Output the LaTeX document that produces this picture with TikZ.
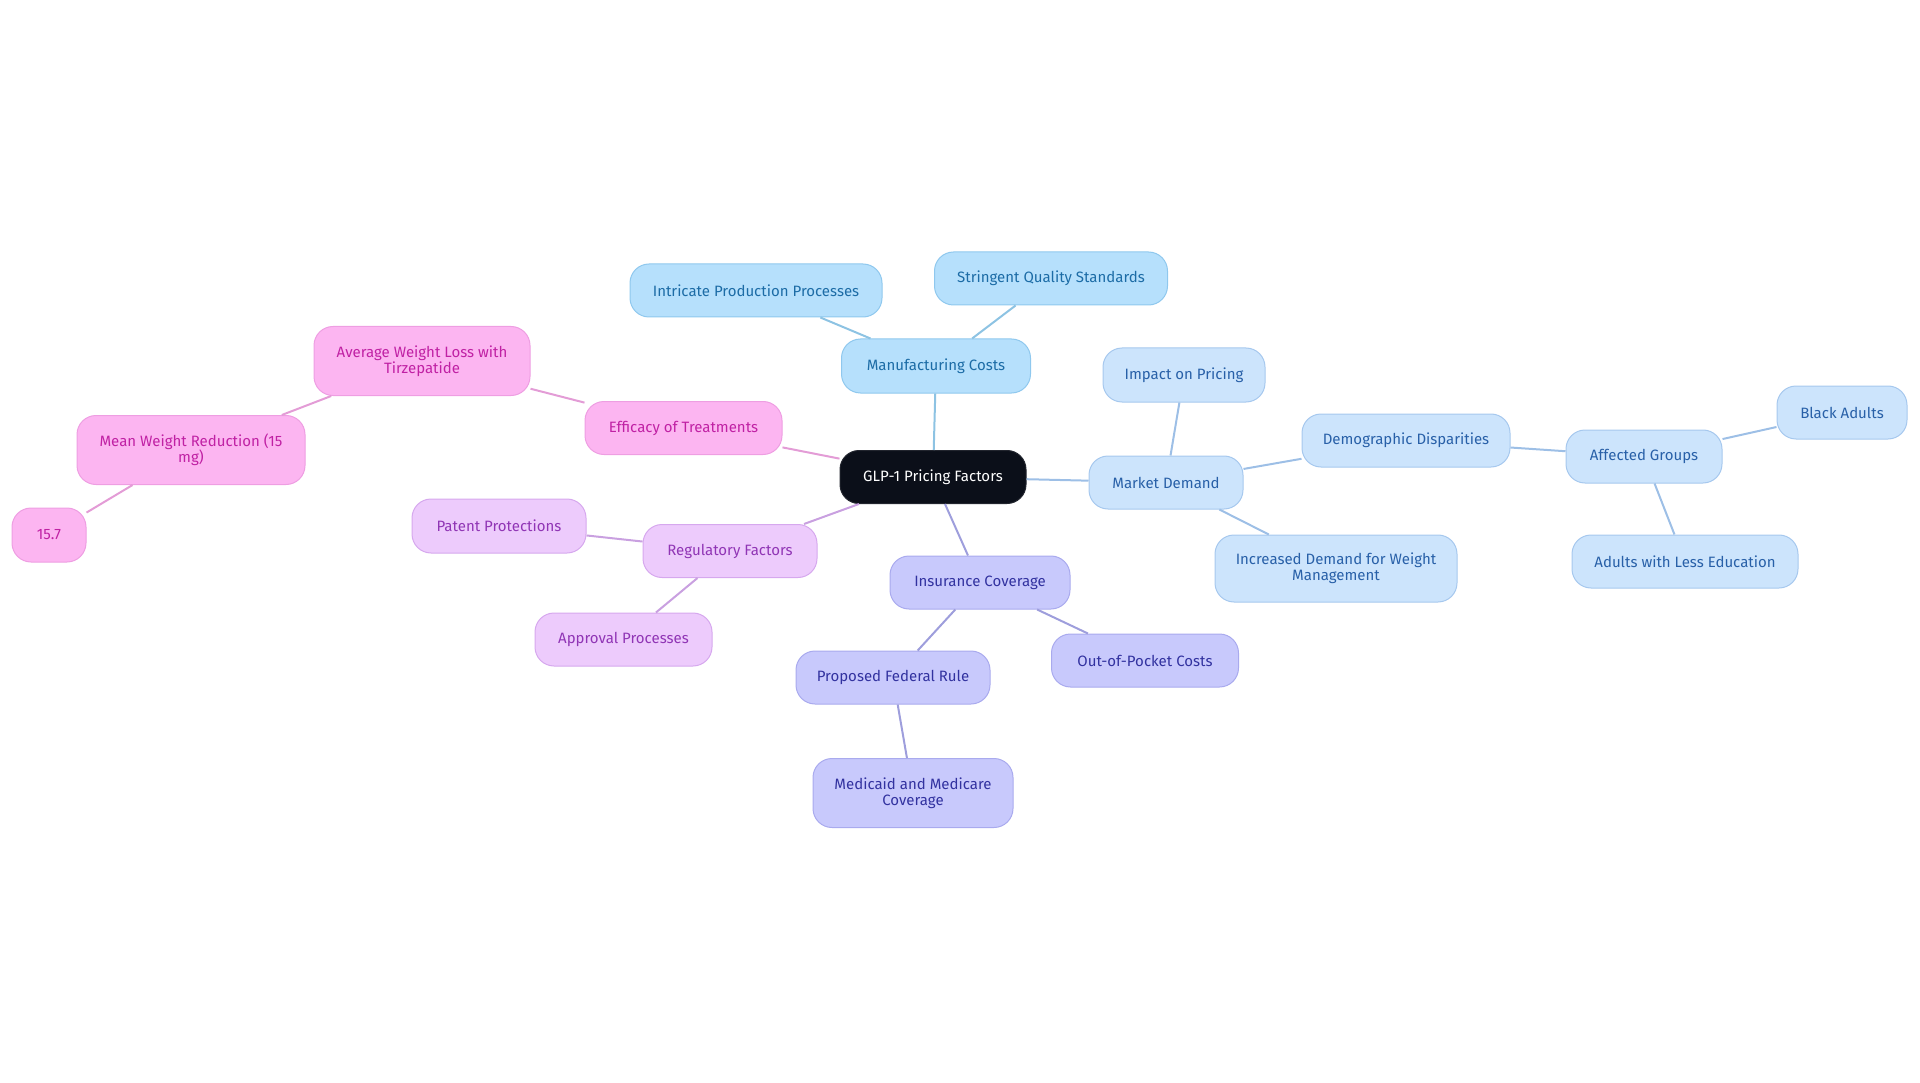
\documentclass[tikz,border=0pt]{standalone}
\usepackage{fontspec}
\setmainfont{Fira Sans}
\definecolor{rootfill}{HTML}{0B0F19}
\definecolor{mfgfill}{HTML}{B6E0FC}\definecolor{mfgdraw}{HTML}{8FC8EE}\definecolor{mfgtext}{HTML}{1C6CA6}\definecolor{mfgline}{HTML}{8DC3E3}
\definecolor{mktfill}{HTML}{CCE4FC}\definecolor{mktdraw}{HTML}{A6C8EE}\definecolor{mkttext}{HTML}{2860A8}\definecolor{mktline}{HTML}{9DBFE6}
\definecolor{efffill}{HTML}{FCB5F1}\definecolor{effdraw}{HTML}{EE9EE2}\definecolor{efftext}{HTML}{C021A4}\definecolor{effline}{HTML}{E39CD6}
\definecolor{regfill}{HTML}{EDCBFC}\definecolor{regdraw}{HTML}{D6A8EE}\definecolor{regtext}{HTML}{9035B5}\definecolor{regline}{HTML}{C9A0E0}
\definecolor{insfill}{HTML}{C8C9FC}\definecolor{insdraw}{HTML}{A9AAEE}\definecolor{instext}{HTML}{3232A0}\definecolor{insline}{HTML}{9E9EDC}
\tikzset{
  box/.style={rounded corners=19pt, line width=1pt, align=center, inner sep=0pt,
    font=\fontsize{15}{16}\selectfont, minimum height=53pt},
  rootbox/.style={box, fill=rootfill, draw=rootfill!80!gray, text=white},
  mfgbox/.style={box, fill=mfgfill, draw=mfgdraw, text=mfgtext},
  mktbox/.style={box, fill=mktfill, draw=mktdraw, text=mkttext},
  effbox/.style={box, fill=efffill, draw=effdraw, text=efftext},
  regbox/.style={box, fill=regfill, draw=regdraw, text=regtext},
  insbox/.style={box, fill=insfill, draw=insdraw, text=instext},
  conn/.style={line width=2pt},
}
\begin{document}
\begin{tikzpicture}[x=1pt,y=-1pt]
\useasboundingbox (0,0) rectangle (1920,1083);
\node[rootbox, minimum width=186pt] (root) at (933,477) {GLP-1 Pricing Factors};
\node[mfgbox, minimum width=189pt, minimum height=54pt] (mfg) at (936,366) {Manufacturing Costs};
\node[mfgbox, minimum width=252pt] (intr) at (756,290.5) {Intricate Production Processes};
\node[mfgbox, minimum width=233pt] (strg) at (1051,278.5) {Stringent Quality Standards};
\node[mktbox, minimum width=154pt] (mkt) at (1166,482.5) {Market Demand};
\node[mktbox, minimum width=162pt, minimum height=54pt] (imp) at (1184,375) {Impact on Pricing};
\node[mktbox, minimum width=208pt] (demo) at (1406,440.5) {Demographic Disparities};
\node[mktbox, minimum width=156pt] (aff) at (1644,456.5) {Affected Groups};
\node[mktbox, minimum width=130pt] (black) at (1842,412.5) {Black Adults};
\node[mktbox, minimum width=226pt] (less) at (1685,561.5) {Adults with Less Education};
\node[mktbox, minimum width=242pt, minimum height=67pt] (incr) at (1336,568.5) {Increased Demand for Weight\\Management};
\node[effbox, minimum width=197pt] (eff) at (683.5,428) {Efficacy of Treatments};
\node[effbox, minimum width=216pt, minimum height=69pt] (avg) at (422,361) {Average Weight Loss with\\Tirzepatide};
\node[effbox, minimum width=228pt, minimum height=69pt] (mean) at (191,450) {Mean Weight Reduction (15\\mg)};
\node[effbox, minimum width=74pt, minimum height=54pt] (n157) at (49,535) {15.7};
\node[regbox, minimum width=174pt] (reg) at (730,551) {Regulatory Factors};
\node[regbox, minimum width=174pt, minimum height=54pt] (pat) at (499,526) {Patent Protections};
\node[regbox, minimum width=177pt] (appr) at (623.5,639.5) {Approval Processes};
\node[insbox, minimum width=180pt] (ins) at (980,582.5) {Insurance Coverage};
\node[insbox, minimum width=187pt] (oop) at (1145,660.5) {Out-of-Pocket Costs};
\node[insbox, minimum width=194pt] (fed) at (893,677.5) {Proposed Federal Rule};
\node[insbox, minimum width=200pt, minimum height=69pt] (med) at (913,793) {Medicaid and Medicare\\Coverage};
\draw[conn, mfgline] (root) -- (mfg);
\draw[conn, mfgline] (mfg) -- (intr);
\draw[conn, mfgline] (mfg) -- (strg);
\draw[conn, mktline] (root) -- (mkt);
\draw[conn, mktline] (mkt) -- (imp);
\draw[conn, mktline] (mkt) -- (demo);
\draw[conn, mktline] (mkt) -- (incr);
\draw[conn, mktline] (demo) -- (aff);
\draw[conn, mktline] (aff) -- (black);
\draw[conn, mktline] (aff) -- (less);
\draw[conn, effline] (root) -- (eff);
\draw[conn, effline] (eff) -- (avg);
\draw[conn, effline] (avg) -- (mean);
\draw[conn, effline] (mean) -- (n157);
\draw[conn, regline] (root) -- (reg);
\draw[conn, regline] (reg) -- (pat);
\draw[conn, regline] (reg) -- (appr);
\draw[conn, insline] (root) -- (ins);
\draw[conn, insline] (ins) -- (oop);
\draw[conn, insline] (ins) -- (fed);
\draw[conn, insline] (fed) -- (med);
\end{tikzpicture}
\end{document}
